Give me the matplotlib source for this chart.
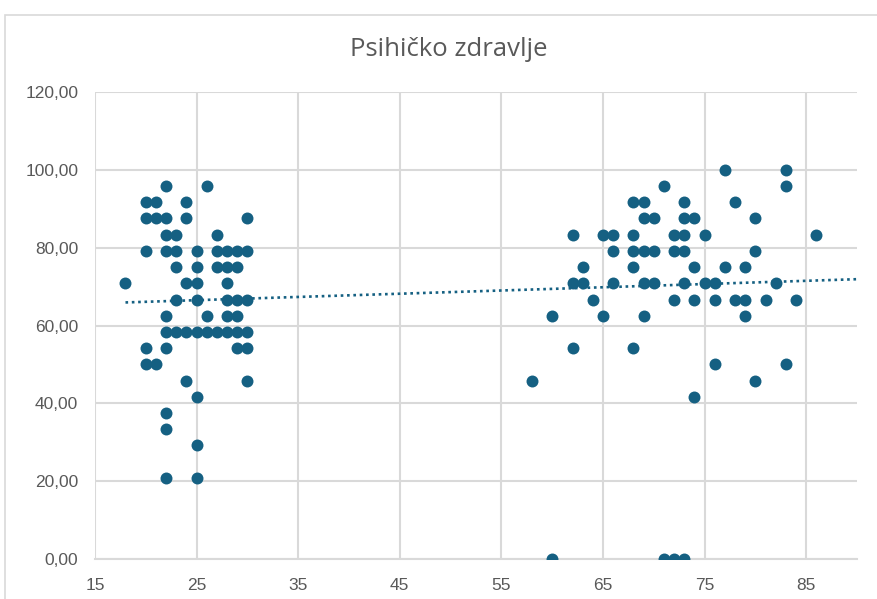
import numpy as np
import matplotlib
matplotlib.use('Agg')
import matplotlib.pyplot as plt
from matplotlib.patches import Rectangle
from matplotlib.ticker import FuncFormatter

# age (x) and mental-health score (y)
age = [22, 26,
       20, 21, 24,
       20, 21, 22, 24, 30,
       22, 23, 27,
       20, 22, 23, 25, 27, 28, 29, 30,
       23, 25, 27, 28, 29,
       18, 24, 25, 28,
       23, 25, 28, 29, 30,
       22, 26, 28, 29,
       22, 23, 24, 25, 26, 27, 28, 29, 30,
       20, 22, 29, 30,
       20, 21,
       24, 30,
       25,
       22,
       22,
       25,
       22, 25,
       # older group
       77, 83,
       71, 83,
       68, 69, 73, 78,
       69, 70, 73, 74, 80,
       62, 65, 66, 68, 72, 73, 75, 86,
       66, 68, 69, 70, 72, 73, 80,
       63, 68, 74, 77, 79,
       62, 63, 66, 69, 70, 73, 75, 76, 82,
       64, 72, 74, 76, 78, 79, 81, 84,
       60, 65, 69, 79,
       62, 68,
       76, 83,
       58, 80,
       74,
       60, 71, 72, 73]

score = [95.83] * 2 + [91.67] * 3 + [87.5] * 5 + [83.33] * 3 + [79.17] * 8 + \
        [75.0] * 5 + [70.83] * 4 + [66.67] * 5 + [62.5] * 4 + [58.33] * 9 + \
        [54.17] * 4 + [50.0] * 2 + [45.83] * 2 + [41.67] + [37.5] + [33.33] + \
        [29.17] + [20.83] * 2 + \
        [100.0] * 2 + [95.83] * 2 + [91.67] * 4 + [87.5] * 5 + [83.33] * 8 + \
        [79.17] * 7 + [75.0] * 5 + [70.83] * 9 + [66.67] * 8 + [62.5] * 4 + \
        [54.17] * 2 + [50.0] * 2 + [45.83] * 2 + [41.67] + [0.0] * 4

title = 'Psihičko zdravlje'
xticks = [15, 25, 35, 45, 55, 65, 75, 85]
yticks = [0, 20, 40, 60, 80, 100, 120]

col = '#156082'
grid_col = '#D9D9D9'
txt_col = '#595959'

plt.rcParams['font.family'] = ['Liberation Sans', 'DejaVu Sans']

fig = plt.figure(figsize=(8.78, 5.99), dpi=100)
ax = fig.add_axes([95 / 878, 1 - 559 / 599, (857 - 95) / 878, (559 - 92) / 599])

# chart border
fig.patches.append(Rectangle((5 / 878, -0.1), 1.2, 1 - 15 / 599 + 0.1,
                             transform=fig.transFigure, fill=False,
                             edgecolor=grid_col, lw=1.2))

x = np.array(age, dtype=float)
y = np.array(score, dtype=float)
ax.scatter(x, y, s=74, color=col, zorder=3, linewidths=0)

# linear trendline
k, b = np.polyfit(x, y, 1)
xt = np.array([x.min(), 90])
ax.plot(xt, k * xt + b, color=col, lw=1.9, linestyle=(0, (1, 1.4)), zorder=2)

ax.set_xlim(15, 90)
ax.set_ylim(0, 120)
ax.set_xticks(xticks)
ax.set_yticks(yticks)
ax.yaxis.set_major_formatter(FuncFormatter(lambda v, p: f'{v:.2f}'.replace('.', ',')))
ax.grid(True, color=grid_col, lw=1.5)
ax.set_axisbelow(True)
for s in ['top', 'right', 'left']:
    ax.spines[s].set_visible(False)
ax.spines['bottom'].set_color(grid_col)
ax.spines['bottom'].set_linewidth(1.5)
ax.tick_params(length=0, labelsize=12.5, labelcolor=txt_col)
ax.tick_params(axis='x', pad=14)
ax.tick_params(axis='y', pad=12)

fig.text(449 / 878, 1 - 49 / 599, title, ha='center', va='center',
         fontsize=18.5, color=txt_col, family=['Open Sans', 'DejaVu Sans'])

fig.savefig('out.png', dpi=100)
